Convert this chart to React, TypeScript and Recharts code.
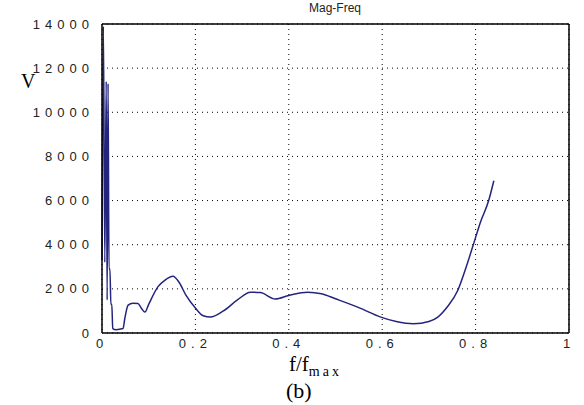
import { LineChart, Line, XAxis, YAxis, CartesianGrid, ReferenceLine } from 'recharts'

// normalised frequency f/fmax
const freq = [
  0.0, 0.003, 0.006, 0.009, 0.011, 0.013, 0.015, 0.017, 0.019, 0.021, 0.023, 0.03, 0.045,
  0.049, 0.056, 0.066, 0.077, 0.085, 0.092, 0.1, 0.12, 0.135, 0.152, 0.165, 0.18, 0.2,
  0.217, 0.232, 0.26, 0.29, 0.318, 0.339, 0.371, 0.4, 0.44, 0.47, 0.5, 0.55, 0.597, 0.63,
  0.667, 0.7, 0.719, 0.74, 0.762, 0.78, 0.796, 0.81, 0.828, 0.839,
]

// magnitude V
const mag = [
  3300, 13900, 3200, 11400, 1500, 11300, 2900, 2900, 1300, 1300, 200, 150, 200,
  680, 1260, 1350, 1340, 1100, 950, 1300, 2100, 2400, 2570, 2300, 1700, 1130,
  780, 720, 1000, 1500, 1850, 1830, 1540, 1700, 1850, 1780, 1550, 1150, 720, 520,
  420, 520, 720, 1200, 1940, 3000, 4060, 5000, 6000, 6900,
]

const xTicks = [0, 0.2, 0.4, 0.6, 0.8, 1]
const yTicks = [0, 2000, 4000, 6000, 8000, 10000, 12000, 14000]

const data = freq.map((f, i) => ({ f, v: mag[i] }))

const tickStyle = { fontFamily: 'Liberation Sans, Arial', fontSize: 13, fill: '#222', letterSpacing: 5 }
const serif = 'Liberation Serif, Times New Roman, serif'

export default function App() {
  return (
    <div style={{ position: 'absolute', left: 0, top: 0, width: 584, height: 405, background: '#fff' }}>
      <LineChart width={584} height={405} data={data} margin={{ top: 24, right: 15, bottom: 52, left: 0 }}>
        <CartesianGrid stroke="#000" strokeDasharray="1 4" horizontalValues={yTicks} verticalValues={xTicks} />
        <XAxis
          dataKey="f"
          type="number"
          domain={[0, 1]}
          ticks={xTicks}
          height={20}
          tickLine={false}
          tickMargin={0}
          axisLine={{ stroke: '#000', strokeWidth: 1.5 }}
          tick={tickStyle}
          tickFormatter={(t: number) => String(t)}
        />
        <YAxis
          type="number"
          domain={[0, 14000]}
          ticks={yTicks}
          width={102}
          tickLine={false}
          axisLine={{ stroke: '#000', strokeWidth: 1.5 }}
          tick={tickStyle}
          interval={0}
        />
        <ReferenceLine y={14000} stroke="#000" strokeWidth={1.5} />
        <ReferenceLine x={1} stroke="#000" strokeWidth={1.5} />
        <Line
          type="monotone"
          dataKey="v"
          stroke="#24247e"
          strokeWidth={1.5}
          dot={false}
          isAnimationActive={false}
        />
      </LineChart>
      <div style={{ position: 'absolute', left: 300, top: 1, width: 70, textAlign: 'center', fontFamily: 'Liberation Sans, Arial', fontSize: 12, color: '#222' }}>
        Mag-Freq
      </div>
      <div style={{ position: 'absolute', left: 21, top: 70, fontFamily: serif, fontSize: 20, color: '#000' }}>V</div>
      <div style={{ position: 'absolute', left: 289, top: 355, lineHeight: '18px', fontFamily: serif, fontSize: 21, color: '#000', whiteSpace: 'nowrap' }}>
        f/f<span style={{ fontSize: 14, letterSpacing: 3, position: 'relative', top: 5 }}>max</span>
      </div>
      <div style={{ position: 'absolute', left: 286, top: 380, lineHeight: '22px', fontFamily: serif, fontSize: 22, color: '#000' }}>(b)</div>
    </div>
  )
}
